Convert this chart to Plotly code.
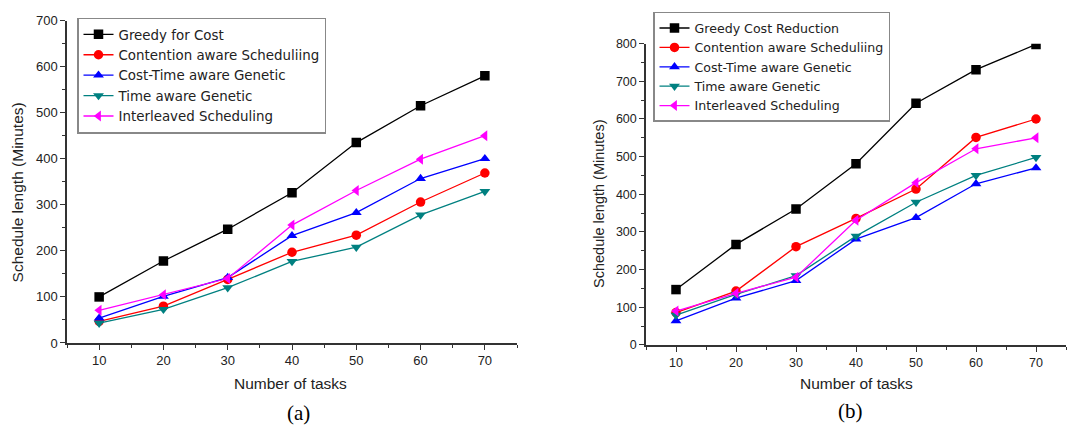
import plotly.graph_objects as go

tasks = [10, 20, 30, 40, 50, 60, 70]

# Panel (a)
a_greedy = [100, 178, 247, 326, 435, 515, 580]
a_contention = [47, 80, 138, 197, 234, 306, 369]
a_costtime = [54, 101, 142, 233, 283, 357, 400]
a_timeaware = [43, 73, 120, 177, 208, 278, 329]
a_interleaved = [71, 105, 140, 256, 331, 399, 450]

# Panel (b)
b_greedy = [147, 267, 361, 481, 642, 731, 798]
b_contention = [86, 143, 261, 336, 414, 551, 600]
b_costtime = [64, 124, 171, 281, 338, 428, 470]
b_timeaware = [79, 134, 184, 289, 379, 450, 498]
b_interleaved = [90, 137, 180, 331, 431, 521, 550]

names_a = ["Greedy for Cost", "Contention aware Scheduliing", "Cost-Time aware Genetic",
           "Time aware Genetic", "Interleaved Scheduling"]
names_b = ["Greedy Cost Reduction", "Contention aware Scheduliing", "Cost-Time aware Genetic",
           "Time aware Genetic", "Interleaved Scheduling"]

colors = ["#000000", "#ff0000", "#0000ff", "#008080", "#ff00ff"]
symbols = ["square", "circle", "triangle-up", "triangle-down", "triangle-left"]

W, H = 1077, 435
FONT = "Arial, Liberation Sans, sans-serif"
LEGFONT = "DejaVu Sans, Arial, sans-serif"
TXT = "#222222"

fig = go.Figure()

series_a = [a_greedy, a_contention, a_costtime, a_timeaware, a_interleaved]
series_b = [b_greedy, b_contention, b_costtime, b_timeaware, b_interleaved]

for i, ys in enumerate(series_a):
    fig.add_trace(go.Scatter(
        x=tasks, y=ys, name=names_a[i], mode="lines+markers",
        line=dict(color=colors[i], width=1.3),
        marker=dict(symbol=symbols[i], size=9.5, color=colors[i], line=dict(width=0)),
        xaxis="x", yaxis="y", legend="legend"))

for i, ys in enumerate(series_b):
    fig.add_trace(go.Scatter(
        x=tasks, y=ys, name=names_b[i], mode="lines+markers",
        line=dict(color=colors[i], width=1.3),
        marker=dict(symbol=symbols[i], size=9.5, color=colors[i], line=dict(width=0)),
        xaxis="x2", yaxis="y2", legend="legend2"))


def px_x(p):
    return p / W


def px_y(p):
    return 1 - p / H


axis_common = dict(
    showline=True, linecolor="#333333", linewidth=1.5, mirror=False,
    showgrid=False, zeroline=False, ticks="outside", ticklen=5, tickwidth=1.2,
    tickcolor="#333333", tickfont=dict(family=FONT, size=13, color=TXT),
)
minor_x = dict(dtick=5, tick0=5, ticks="outside", ticklen=3, tickcolor="#333333")
minor_y = dict(dtick=50, ticks="outside", ticklen=3, tickcolor="#333333")

fig.update_layout(
    width=W, height=H,
    margin=dict(l=0, r=0, t=0, b=0),
    paper_bgcolor="white", plot_bgcolor="white",
    showlegend=True,
    xaxis=dict(domain=[px_x(67), px_x(517)], range=[5, 75], tick0=10, dtick=10,
               anchor="y", minor=minor_x, **axis_common),
    yaxis=dict(domain=[px_y(348), px_y(14)], range=[0, 700], dtick=100,
               anchor="x", minor=minor_y, **axis_common),
    xaxis2=dict(domain=[px_x(646), px_x(1066)], range=[5, 75], tick0=10, dtick=10,
                anchor="y2", minor=minor_x, **axis_common),
    yaxis2=dict(domain=[px_y(350), px_y(38)], range=[0, 800], dtick=100,
                anchor="x2", minor=minor_y, **axis_common),
    legend=dict(x=px_x(77), y=px_y(11), xanchor="left", yanchor="top",
                bgcolor="white", bordercolor="#888888", borderwidth=1.5,
                font=dict(family=LEGFONT, size=13.4, color=TXT), tracegroupgap=0),
    legend2=dict(x=px_x(653), y=px_y(5), xanchor="left", yanchor="top",
                 bgcolor="white", bordercolor="#888888", borderwidth=1.5,
                 font=dict(family=LEGFONT, size=12.6, color=TXT), tracegroupgap=0),
)

fig.update_layout(xaxis2_tickfont_size=12.5, yaxis2_tickfont_size=12.5)

ann = [
    dict(text="Schedule length (Minutes)", x=px_x(17), y=px_y(192), textangle=-90,
         font=dict(family=FONT, size=15.5, color=TXT)),
    dict(text="Number of tasks", x=px_x(291), y=px_y(390),
         font=dict(family=FONT, size=15.5, color=TXT)),
    dict(text="(a)", x=px_x(298), y=px_y(420),
         font=dict(family="Liberation Serif, Times New Roman, serif", size=21, color="#000000")),
    dict(text="Schedule length (Minutes)", x=px_x(599), y=px_y(204), textangle=-90,
         font=dict(family=FONT, size=14.5, color=TXT)),
    dict(text="Number of tasks", x=px_x(856), y=px_y(390),
         font=dict(family=FONT, size=15.5, color=TXT)),
    dict(text="(b)", x=px_x(850), y=px_y(418),
         font=dict(family="Liberation Serif, Times New Roman, serif", size=21, color="#000000")),
]
for a in ann:
    fig.add_annotation(xref="paper", yref="paper", showarrow=False,
                       xanchor="center", yanchor="middle", **a)

fig.write_html("out.html")
